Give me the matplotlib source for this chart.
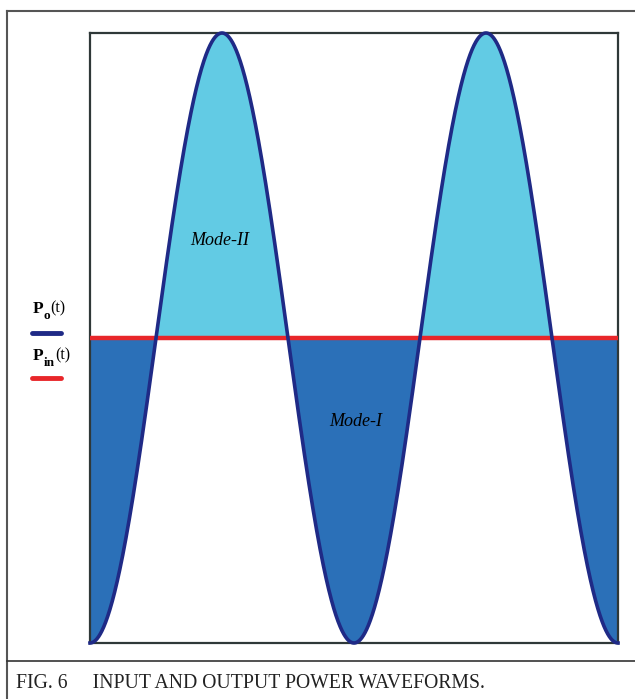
import matplotlib
matplotlib.use("Agg")
import matplotlib.pyplot as plt
import numpy as np
from matplotlib.lines import Line2D

# waveform parameters (per-unit)
p_in = 1.0          # constant input power
p_ripple = 1.0      # amplitude of the double-frequency output ripple
n_cycles = 2        # cycles shown
mode_labels = ["Mode-II", "Mode-I"]
mode_pos = [(0.49, 1.32), (1.005, 0.725)]
legend_labels = [("P", "o", "(t)"), ("P", "in", "(t)")]

c_dark = "#2b70b8"
c_light = "#62cbe4"
c_curve = "#1f2a86"
c_red = "#e8262a"

W, H = 635, 699
fig = plt.figure(figsize=(W / 100, H / 100), dpi=100)

t = np.linspace(0, n_cycles, 2000)
p_o = p_in - p_ripple * np.cos(2 * np.pi * t)

ax = fig.add_axes([90 / W, (H - 643) / H, 528 / W, 610 / H])
ax.fill_between(t, p_o, p_in, where=p_o <= p_in, color=c_dark, lw=0, interpolate=True)
ax.fill_between(t, p_o, p_in, where=p_o >= p_in, color=c_light, lw=0, interpolate=True)
ax.axhline(p_in, color=c_red, lw=3.2, zorder=3)
ax.plot(t, p_o, color=c_curve, lw=2.6, zorder=4, clip_on=False)
ax.set_xlim(0, n_cycles)
ax.set_ylim(p_in - p_ripple, p_in + p_ripple)
ax.set_xticks([])
ax.set_yticks([])
for s in ax.spines.values():
    s.set_color("#2f3838")
    s.set_linewidth(1.6)

for lab, (x, y) in zip(mode_labels, mode_pos):
    ax.text(x, y, lab, ha="center", va="center", fontsize=13,
            family="Liberation Serif", style="italic", zorder=5)

# legend on the left
def px(x, y):
    return x / W, 1 - y / H

renderer = fig.canvas.get_renderer()
for (base, sub, tail), y0 in zip(legend_labels, [309, 356]):
    fig.text(*px(33, y0), base, fontsize=12.5, family="Liberation Serif",
             weight="bold", va="center", ha="left")
    st = fig.text(*px(44, y0 + 7), sub, fontsize=9.5, family="Liberation Serif",
                  weight="bold", va="center", ha="left")
    x_end = st.get_window_extent(renderer).x1
    fig.text(x_end / W, 1 - (y0 - 1) / H, tail, fontsize=11.5,
             family="Liberation Serif", va="center", ha="left")
for y0, col in zip([333, 378], [c_curve, c_red]):
    fig.add_artist(Line2D([32 / W, 61 / W], [1 - y0 / H] * 2, color=col,
                          lw=3.5, solid_capstyle="round"))

# outer frame and caption
fig.add_artist(Line2D([7 / W, 7 / W], [0, 1 - 11 / H], color="#555555", lw=1.5))
fig.add_artist(Line2D([7 / W, 1], [1 - 11 / H] * 2, color="#555555", lw=1.5))
fig.add_artist(Line2D([7 / W, 1], [1 - 661 / H] * 2, color="#333333", lw=1.2))
fig.text(16 / W, 1 - 688 / H, "FIG. 6     INPUT AND OUTPUT POWER WAVEFORMS.",
         fontsize=14.2, family="Liberation Serif", va="baseline", ha="left",
         color="#222222")

fig.savefig("out.png", dpi=100)
